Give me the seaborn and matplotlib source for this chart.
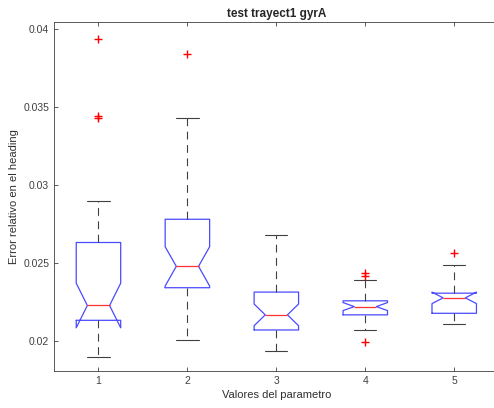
import matplotlib
matplotlib.use("Agg")
import matplotlib.pyplot as plt
import matplotlib.ticker as mticker
import seaborn as sns
import pandas as pd

# Samples per parameter value (30 runs each)
g1 = [0.0190, 0.0199, 0.0203, 0.0206, 0.0208, 0.0210, 0.0212, 0.02133, 0.02133, 0.0215,
      0.0217, 0.0219, 0.0221, 0.0222, 0.02228, 0.02228, 0.0226, 0.0231, 0.0238, 0.0247,
      0.0256, 0.02632, 0.02632, 0.0267, 0.0273, 0.0281, 0.02897, 0.0343, 0.0344, 0.0394]
g2 = [0.02006, 0.0212, 0.0218, 0.0223, 0.0227, 0.0230, 0.0232, 0.02342, 0.02342, 0.0237,
      0.0239, 0.0241, 0.0244, 0.0246, 0.02479, 0.02479, 0.0251, 0.0255, 0.0260, 0.0266,
      0.0272, 0.02781, 0.02781, 0.0284, 0.0291, 0.0298, 0.0308, 0.0322, 0.0343, 0.0384]
g3 = [0.01937, 0.0199, 0.0201, 0.0203, 0.0204, 0.0205, 0.0206, 0.02071, 0.02071, 0.0209,
      0.0211, 0.0213, 0.0214, 0.0216, 0.02168, 0.02168, 0.0218, 0.0221, 0.0224, 0.0227,
      0.0229, 0.02314, 0.02314, 0.0234, 0.0237, 0.0241, 0.0245, 0.0251, 0.0258, 0.02677]
g4 = [0.01995, 0.02071, 0.0211, 0.0213, 0.0214, 0.0215, 0.0216, 0.02168, 0.02168, 0.0218,
      0.0219, 0.0220, 0.0221, 0.0222, 0.02221, 0.02221, 0.0223, 0.0224, 0.0225, 0.0225,
      0.0225, 0.02258, 0.02258, 0.0227, 0.0229, 0.0231, 0.0234, 0.02389, 0.02415, 0.02436]
g5 = [0.02107, 0.0212, 0.0213, 0.0214, 0.0215, 0.0216, 0.0217, 0.02178, 0.02178, 0.0219,
      0.0221, 0.0223, 0.0225, 0.0226, 0.02277, 0.02277, 0.0228, 0.0229, 0.0229, 0.0230,
      0.0230, 0.02307, 0.02307, 0.0232, 0.0234, 0.0236, 0.0239, 0.0243, 0.02486, 0.02565]
params = [1, 2, 3, 4, 5]
yticks = [0.02, 0.025, 0.03, 0.035, 0.04]

rows = []
for p, g in zip(params, [g1, g2, g3, g4, g5]):
    for v in g:
        rows.append({"param": p, "err": v})
df = pd.DataFrame(rows)

sns.set_style("ticks")
plt.rcParams["font.family"] = ["Liberation Sans", "DejaVu Sans"]
axcol = "#404040"

fig = plt.figure(figsize=(4.94, 4.08), dpi=100)
ax = fig.add_axes([0.1093, 0.0907, 0.9002, 0.855])

sns.boxplot(data=df, x="param", y="err", native_scale=True, width=0.5, notch=True,
            fill=False, ax=ax, capwidths=0.25,
            boxprops={"color": "#4a4aff", "linewidth": 0.9},
            medianprops={"color": "#ff3030", "linewidth": 0.9},
            whiskerprops={"color": "#404040", "linewidth": 0.8, "linestyle": (0, (7, 5))},
            capprops={"color": "#404040", "linewidth": 0.8},
            flierprops={"marker": "+", "markeredgecolor": "#ff0000", "markersize": 6,
                        "markeredgewidth": 1.0})

ax.set_xlim(0.5, 5.5)
ax.set_ylim(0.01808, 0.04045)
ax.set_xticks(params)
ax.set_yticks(yticks)
ax.yaxis.set_major_formatter(mticker.FormatStrFormatter("%g"))
ax.tick_params(direction="in", top=True, right=True, labelsize=7.5, colors=axcol,
               length=3, width=0.6)
for s in ax.spines.values():
    s.set_color(axcol)
    s.set_linewidth(0.6)
    s.set_visible(True)

ax.set_xlabel("Valores del parametro", fontsize=8, color="#303030", labelpad=3)
ax.set_ylabel("Error relativo en el heading", fontsize=8, color="#303030", labelpad=3)
ax.set_title("test trayect1 gyrA", fontsize=8.5, fontweight="bold", pad=4)

fig.savefig("out.png", dpi=100)
